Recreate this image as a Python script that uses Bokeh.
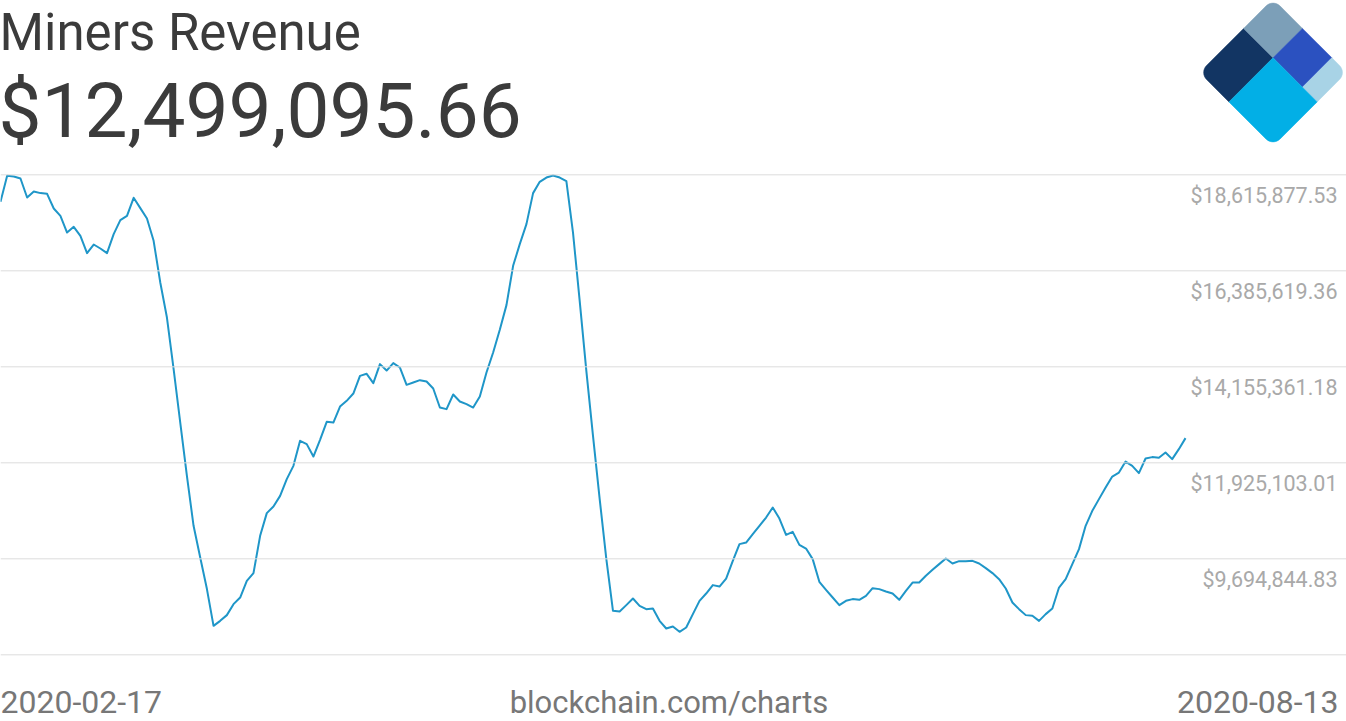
import math
import pandas as pd
from bokeh.plotting import figure
from bokeh.models import Range1d, Span
from bokeh.core.properties import value
from bokeh.embed import file_html
from bokeh.resources import INLINE

# ---------------- data ----------------
title_text = "Miners Revenue"
current_value = "$12,499,095.66"
start_label = "2020-02-17"
end_label = "2020-08-13"
source_label = "blockchain.com/charts"

dates = pd.date_range("2020-02-17", "2020-08-13", freq="D")

# daily miners revenue, millions of USD
revenue_m = [
    17.989, 18.593, 18.576, 18.530, 18.089, 18.228, 18.191, 18.174, 17.833, 17.663,
    17.276, 17.408, 17.199, 16.797, 16.997, 16.904, 16.797, 17.238, 17.564, 17.663,
    18.082, 17.842, 17.601, 17.083, 16.114, 15.301, 14.109, 12.861, 11.623, 10.462,
    9.725, 8.998, 8.138, 8.254, 8.387, 8.642, 8.796, 9.184, 9.363, 10.229,
    10.757, 10.910, 11.158, 11.546, 11.855, 12.436, 12.360, 12.071, 12.459, 12.878,
    12.861, 13.233, 13.366, 13.535, 13.946, 13.993, 13.777, 14.218, 14.069, 14.241,
    14.139, 13.737, 13.791, 13.846, 13.814, 13.651, 13.210, 13.173, 13.512, 13.349,
    13.289, 13.210, 13.465, 14.023, 14.488, 15.015, 15.589, 16.502, 17.006, 17.471,
    18.191, 18.453, 18.553, 18.600, 18.553, 18.470, 17.268, 15.689, 14.062, 12.552,
    11.089, 9.695, 8.487, 8.471, 8.619, 8.773, 8.603, 8.526, 8.540, 8.254,
    8.076, 8.122, 7.999, 8.099, 8.410, 8.719, 8.889, 9.084, 9.051, 9.237,
    9.648, 10.036, 10.074, 10.269, 10.462, 10.654, 10.887, 10.631, 10.252, 10.322,
    10.020, 9.934, 9.688, 9.161, 8.975, 8.796, 8.619, 8.719, 8.759, 8.742,
    8.835, 9.014, 8.991, 8.935, 8.889, 8.742, 8.951, 9.144, 9.144, 9.300,
    9.439, 9.572, 9.702, 9.586, 9.641, 9.641, 9.648, 9.586, 9.479, 9.363,
    9.223, 9.005, 8.680, 8.526, 8.387, 8.371, 8.254, 8.410, 8.540, 9.028,
    9.223, 9.572, 9.920, 10.462, 10.810, 11.082, 11.351, 11.607, 11.700, 11.955,
    11.855, 11.686, 12.025, 12.058, 12.041, 12.164, 12.011, 12.243, 12.49909566,
]
revenue = [v * 1e6 for v in revenue_m]

grid_values = [18615877.53, 16385619.36, 14155361.18, 11925103.01, 9694844.83, 7464586.66]
grid_labels = ["$18,615,877.53", "$16,385,619.36", "$14,155,361.18",
               "$11,925,103.01", "$9,694,844.83"]

logo_colors = ["#123563", "#7c9fb8", "#2b51c0", "#a8d3e6", "#02afe6"]

# ---------------- geometry (canvas pixels) ----------------
W, H = 1346, 721
DAY_MS = 86400000.0
t0 = dates[0].value / 1e6
X0 = 0.0                          # canvas x of first day
PXD = 1185.0 / (len(dates) - 1)   # pixels per day
GY0 = 174.33                      # canvas y of first gridline
GSTEP = 96.0
dpp = (grid_values[0] - grid_values[1]) / GSTEP
BASE = 0.352                      # baseline correction (em) for svg text


def px_x(c):
    return t0 + ((c - X0) / PXD) * DAY_MS


def px_y(c):
    return grid_values[0] - (c - GY0) * dpp


p = figure(width=W, height=H,
           x_range=Range1d(px_x(0), px_x(W)),
           y_range=Range1d(px_y(H), px_y(0)),
           x_axis_location=None, y_axis_location=None,
           toolbar_location=None, output_backend="svg",
           min_border=0, outline_line_color=None,
           background_fill_color="white", border_fill_color="white")
p.xgrid.grid_line_color = None
p.ygrid.grid_line_color = None

# gridlines
for v in grid_values:
    p.add_layout(Span(location=v, dimension="width",
                      line_color="#dcdcdc", line_width=1))

# main line
p.line(dates, revenue, line_color="#1f96c8", line_width=2,
       line_join="round")


def put_text(x, base, txt, size, color, align):
    p.text(x=[px_x(x)], y=[px_y(base - BASE * size)], text=[txt],
           text_font=value("Roboto"), text_font_size=f"{size}px",
           text_color=color, text_baseline="alphabetic", text_align=align)


# title and headline value
put_text(-1, 50, title_text, 51, "#3b3b3b", "left")
put_text(-2, 137.5, current_value, 76.5, "#3b3b3b", "left")

# right-hand value labels below each gridline
LS = 21.5
lab_x = [px_x(1337)] * len(grid_labels)
lab_y = [v - (28.7 - BASE * LS) * dpp for v in grid_values[:len(grid_labels)]]
p.text(x=lab_x, y=lab_y, text=grid_labels,
       text_font=value("Roboto"), text_font_size=f"{LS}px",
       text_color="#a9a9a9", text_baseline="alphabetic", text_align="right")

# bottom labels
put_text(0, 713, start_label, 32, "#777777", "left")
put_text(668.5, 713, source_label, 31, "#777777", "center")
put_text(1338, 713, end_label, 32, "#777777", "right")

# ---------------- logo (rotated rounded square, 5 pieces) ----------------
LX, LY = 1199.0, 72.0
S = 104.0
R = 10.0
s2 = math.sqrt(2.0)


def arc(cx, cy, a0, a1, n=8):
    return [(cx + R * math.cos(a0 + (a1 - a0) * k / n),
             cy + R * math.sin(a0 + (a1 - a0) * k / n)) for k in range(n + 1)]


pi = math.pi
pieces_local = [
    arc(R, R, pi, 1.5 * pi) + [(0.6 * S, 0), (0.6 * S, 0.4 * S), (0, 0.4 * S)],
    [(0.6 * S, 0)] + arc(S - R, R, 1.5 * pi, 2 * pi) + [(S, 0.4 * S), (0.6 * S, 0.4 * S)],
    [(0.6 * S, 0.4 * S), (S, 0.4 * S), (S, 0.8 * S), (0.6 * S, 0.8 * S)],
    [(0.6 * S, 0.8 * S), (S, 0.8 * S)] + arc(S - R, S - R, 0, 0.5 * pi) + [(0.6 * S, S)],
    [(0, 0.4 * S), (0.6 * S, 0.4 * S), (0.6 * S, S)] + arc(R, S - R, 0.5 * pi, pi),
]

xs, ys = [], []
for poly in pieces_local:
    px_, py_ = [], []
    for a, b in poly:
        cx = LX + (a + b) / s2
        cy = LY + (b - a) / s2
        px_.append(px_x(cx))
        py_.append(px_y(cy))
    xs.append(px_)
    ys.append(py_)

p.patches(xs, ys, fill_color=logo_colors, line_color=logo_colors, line_width=0.5)

open("out.html", "w").write(file_html(p, INLINE, title="Miners Revenue"))
